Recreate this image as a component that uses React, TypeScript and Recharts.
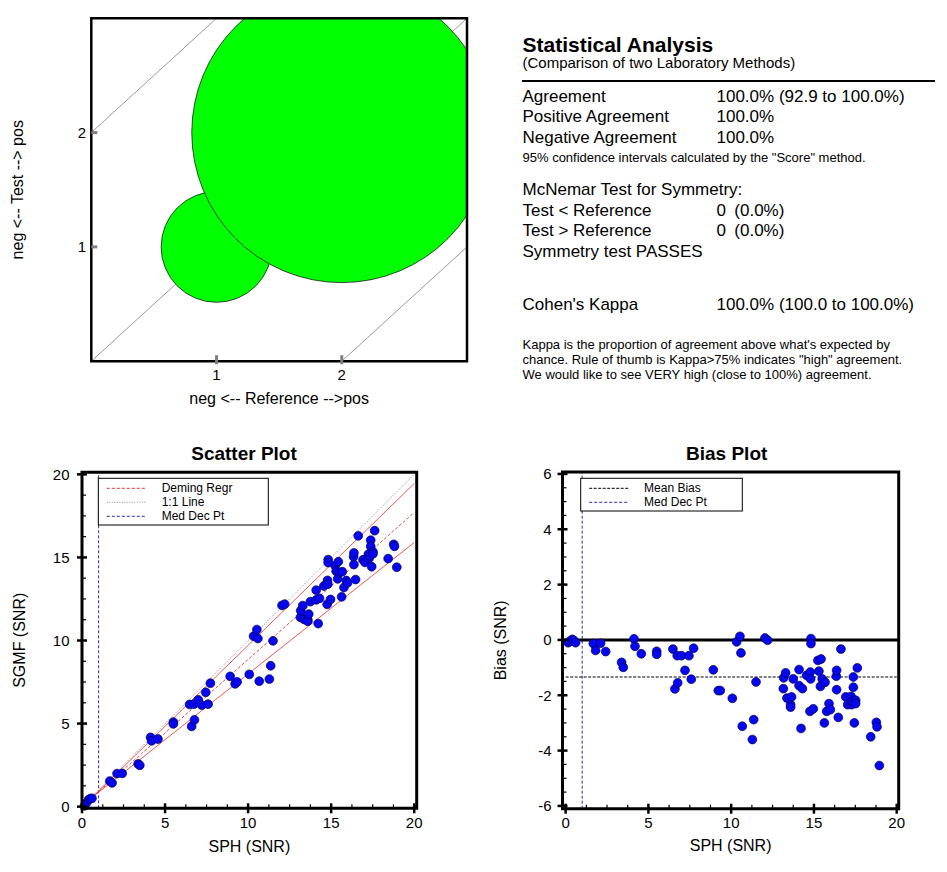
import React from 'react';
import { ScatterChart, Scatter, XAxis, YAxis, ZAxis, ReferenceLine, ReferenceArea } from 'recharts';

const FONT = '"Liberation Sans", Arial, Helvetica, sans-serif';

// 2x2 agreement plot (1 = neg, 2 = pos on both axes)
const agreementRef = [1, 2];
const agreementTest = [1, 2];
const agreementCount = [6, 44];
const agreementTicks = [1, 2];
const agreementDiagonals = [-2, 0, 2]; // test = reference + offset

// method comparison, values (bias = SGMF - SPH)
const sph = [
  0.15, 0.25, 0.4, 0.5, 0.6, 1.67, 1.81, 2.11, 2.42, 3.38,
  3.48, 4.13, 4.19, 4.57, 5.5, 5.5, 6.48, 6.6, 6.74, 6.77,
  7.0, 7.21, 7.45, 7.59, 7.73, 8.92, 9.22, 9.34, 10.07, 10.33,
  10.53, 10.59, 10.67, 11.28, 11.36, 11.5, 12.04, 12.2, 13.15, 13.17,
  13.29, 13.37, 13.59, 13.59, 13.65, 13.75, 14.1, 14.1, 14.22, 14.3,
  14.56, 14.76, 14.78, 14.8, 14.82, 14.82, 14.96, 15.24, 15.3, 15.39,
  15.43, 15.5, 15.63, 15.67, 15.77, 15.91, 15.99, 16.35, 16.37, 16.37,
  16.47, 16.63, 16.92, 17.04, 17.24, 17.28, 17.32, 17.38, 17.38, 17.44,
  17.52, 17.52, 17.62, 18.43, 18.77, 18.81, 18.95,
];
const bias = [
  -0.1, -0.05, 0.02, -0.02, -0.1, -0.13, -0.38, -0.12, -0.42, -0.81,
  -0.99, 0.04, -0.23, -0.5, -0.41, -0.52, -0.33, -1.77, -0.57, -1.55,
  -0.57, -1.1, -0.57, -1.42, -0.3, -1.08, -1.83, -1.83, -2.11, -0.07,
  0.13, -0.47, -3.12, -3.6, -2.88, -1.52, 0.07, -0.01, -1.76, -1.37,
  -1.19, -2.1, -2.34, -2.43, -2.06, -1.41, -1.07, -1.65, -3.2, -1.76,
  -1.28, -2.58, -1.16, -1.41, 0.05, -0.13, -2.49, -0.74, -1.13, -1.68,
  -0.69, -1.41, -3.0, -1.53, -2.58, -2.3, -2.52, -1.31, -1.1, -1.8,
  -2.8, -0.33, -2.06, -2.34, -2.04, -2.34, -2.22, -1.34, -1.71, -3.0,
  -2.18, -2.3, -1.01, -3.5, -2.98, -3.14, -4.54,
];
const snrTicks = [0, 5, 10, 15, 20];
const biasTicks = [-6, -4, -2, 0, 2, 4, 6];
const medDecPt = 1;
const meanBias = -1.34;
const meanBiasX = [0, 20];
const identityX = [0, 20];
const demingX = [0.6, 20];
const demingY = [0.55, 17.7];
const demingUpperY = [0.55, 19.45];
const demingLowerY = [0.55, 15.9];

const scatterLegend = [
  { label: 'Deming Regr', color: '#e53333', dash: '3 2' },
  { label: '1:1 Line', color: '#8a8a8a', dash: '1 1.5' },
  { label: 'Med Dec Pt', color: '#2a2ab0', dash: '3 2' },
];
const biasLegend = [
  { label: 'Mean Bias', color: '#000', dash: '3 1.5' },
  { label: 'Med Dec Pt', color: '#2a2ab0', dash: '3 2' },
];

const statRows = [
  { label: 'Agreement', value: '100.0% (92.9 to 100.0%)' },
  { label: 'Positive Agreement', value: '100.0%' },
  { label: 'Negative Agreement', value: '100.0%' },
];
const mcnemarRows = [
  { label: 'Test < Reference', count: '0', pct: '(0.0%)' },
  { label: 'Test > Reference', count: '0', pct: '(0.0%)' },
];
const kappaNotes = [
  "Kappa is the proportion of agreement above what's expected by",
  'chance. Rule of thumb is Kappa>75% indicates "high" agreement.',
  'We would like to see VERY high (close to 100%) agreement.',
];

const agreementData = agreementRef.map((r, i) => ({ reference: r, test: agreementTest[i], count: agreementCount[i] }));
const pointData = sph.map((x, i) => ({ sph: x, bias: bias[i], sgmf: +(x + bias[i]).toFixed(2) }));

const maxCount = Math.max(...agreementCount);
const minCount = Math.min(...agreementCount);
const maxBubbleArea = Math.PI * 150 * 150;

const withMinor = (majors: number[], parts: number) => {
  const out: number[] = [];
  for (let i = 0; i < majors.length - 1; i++) {
    const step = (majors[i + 1] - majors[i]) / parts;
    for (let k = 0; k < parts; k++) out.push(+(majors[i] + k * step).toFixed(4));
  }
  out.push(majors[majors.length - 1]);
  return out;
};

const isMajor = (v: number, majors: number[]) => majors.some((m) => Math.abs(m - v) < 1e-6);

type TickOpts = { majors: number[]; gap: number; color: string; out: number; inn: number; width: number };

const makeXTick = (o: TickOpts) => (props: any) => {
  const { x, y, payload } = props;
  const major = isMajor(payload.value, o.majors);
  return (
    <g>
      <line x1={x} x2={x} y1={major ? y + o.out : y} y2={major ? y - o.inn : y - 4} stroke={major ? o.color : '#000'} strokeWidth={major ? o.width : 1.2} />
      {major && (
        <text x={x} y={y + o.gap} textAnchor="middle" fontSize={15} fontFamily={FONT} fill="#000">{payload.value}</text>
      )}
    </g>
  );
};

const makeYTick = (o: TickOpts) => (props: any) => {
  const { x, y, payload } = props;
  const major = isMajor(payload.value, o.majors);
  return (
    <g>
      <line x1={major ? x - o.out : x} x2={major ? x + o.inn : x + 4} y1={y} y2={y} stroke={major ? o.color : '#000'} strokeWidth={major ? o.width : 1.2} />
      {major && (
        <text x={x - o.gap} y={y} dy="0.36em" textAnchor="end" fontSize={15} fontFamily={FONT} fill="#000">{payload.value}</text>
      )}
    </g>
  );
};

const ScatterDot = (p: any) => <circle cx={p.cx} cy={p.cy} r={4.4} fill="#0606f0" stroke="#00005a" strokeWidth={0.7} />;

const axisLabel = (value: string, position: string, offset: number, rotate = false) => ({
  value,
  position,
  offset,
  angle: rotate ? -90 : 0,
  fontSize: 16,
  fill: '#000',
  fontFamily: FONT,
  style: rotate ? { textAnchor: 'middle' } : undefined,
});

function AgreementPlot() {
  const dom = [0, 3];
  return (
    <div style={{ position: 'absolute', left: 0, top: 0 }}>
      <ScatterChart width={480} height={420} margin={{ top: 18.3, right: 13, bottom: 8.8, left: 11.3 }}>
        <XAxis type="number" dataKey="reference" domain={dom} allowDataOverflow ticks={agreementTicks} interval={0}
          tickSize={0} tickMargin={0} tickLine={false} axisLine={false} height={50}
          tick={makeXTick({ majors: agreementTicks, gap: 18.8, color: '#808080', out: 3, inn: 6, width: 3 })}
          label={axisLabel('neg <-- Reference -->pos', 'insideBottom', 7.2)} />
        <YAxis type="number" dataKey="test" domain={dom} allowDataOverflow ticks={agreementTicks} interval={0}
          tickSize={0} tickMargin={0} tickLine={false} axisLine={false} width={80}
          tick={makeYTick({ majors: agreementTicks, gap: 5.3, color: '#808080', out: 0, inn: 6, width: 3 })}
          label={axisLabel('neg <-- Test --> pos', 'insideLeft', 6.2, true)} />
        <ZAxis type="number" dataKey="count" domain={[minCount, maxCount]} range={[maxBubbleArea * minCount / maxCount, maxBubbleArea]} />
        {agreementDiagonals.map((off) => (
          <ReferenceLine key={off} segment={[{ x: dom[0], y: dom[0] + off }, { x: dom[1], y: dom[1] + off }]}
            stroke="#9a9a9a" strokeWidth={1} ifOverflow="hidden" />
        ))}
        <Scatter data={agreementData} fill="#00ff00" stroke="#1a1a1a" strokeWidth={0.8} isAnimationActive={false} />
        <ReferenceArea x1={dom[0]} x2={dom[1]} y1={dom[0]} y2={dom[1]} fill="none" fillOpacity={0} stroke="#000" strokeWidth={2.5} ifOverflow="visible" zIndex={1500} />
      </ScatterChart>
    </div>
  );
}

function ComparisonScatter() {
  const xDom = [0, 20.15];
  const yDom = [-0.1, 20.13];
  const ticks = withMinor(snrTicks, 4);
  const tickStyle = { majors: snrTicks, color: '#000', out: 5, inn: 5, width: 2.5 };
  return (
    <div style={{ position: 'absolute', left: 0, top: 430 }}>
      <ScatterChart width={440} height={440} margin={{ top: 42.2, right: 23.3, bottom: 11.7, left: 12 }}>
        <XAxis type="number" dataKey="sph" domain={xDom} ticks={ticks} interval={0}
          tickSize={0} tickMargin={0} tickLine={false} axisLine={false} height={50}
          tick={makeXTick({ ...tickStyle, gap: 20 })}
          label={axisLabel('SPH (SNR)', 'insideBottom', 6.6)} />
        <YAxis type="number" dataKey="sgmf" domain={yDom} ticks={ticks} interval={0}
          tickSize={0} tickMargin={0} tickLine={false} axisLine={false} width={70}
          tick={makeYTick({ ...tickStyle, gap: 12.5 })}
          label={axisLabel('SGMF (SNR)', 'insideLeft', 7.5, true)} />
        <ReferenceLine x={medDecPt} stroke="#2a2ab0" strokeWidth={1} strokeDasharray="3 2" />
        <ReferenceLine segment={[{ x: identityX[0], y: identityX[0] }, { x: identityX[1], y: identityX[1] }]}
          stroke="#8a8a8a" strokeWidth={1} strokeDasharray="1 1.5" ifOverflow="hidden" />
        <ReferenceLine segment={[{ x: demingX[0], y: demingUpperY[0] }, { x: demingX[1], y: demingUpperY[1] }]}
          stroke="#ee4444" strokeWidth={0.9} ifOverflow="hidden" />
        <ReferenceLine segment={[{ x: demingX[0], y: demingLowerY[0] }, { x: demingX[1], y: demingLowerY[1] }]}
          stroke="#ee4444" strokeWidth={0.9} ifOverflow="hidden" />
        <ReferenceLine segment={[{ x: demingX[0], y: demingY[0] }, { x: demingX[1], y: demingY[1] }]}
          stroke="#e53333" strokeWidth={0.9} strokeDasharray="3 2" ifOverflow="hidden" />
        <Scatter data={pointData} shape={ScatterDot} isAnimationActive={false} />
        <ReferenceArea x1={xDom[0]} x2={xDom[1]} y1={yDom[0]} y2={yDom[1]} fill="none" fillOpacity={0} stroke="#000" strokeWidth={3} ifOverflow="visible" zIndex={1500} />
      </ScatterChart>
    </div>
  );
}

function BiasPlot() {
  const xDom = [-0.19, 20.12];
  const yDom = [-6.1, 6.07];
  const xTicks = withMinor(snrTicks, 4);
  const yTicks = withMinor(biasTicks, 4);
  return (
    <div style={{ position: 'absolute', left: 480, top: 430 }}>
      <ScatterChart width={460} height={440} margin={{ top: 42, right: 41.3, bottom: 11.3, left: 12.5 }}>
        <XAxis type="number" dataKey="sph" domain={xDom} ticks={xTicks} interval={0}
          tickSize={0} tickMargin={0} tickLine={false} axisLine={false} height={50}
          tick={makeXTick({ majors: snrTicks, color: '#000', out: 5, inn: 5, width: 2.5, gap: 19.6 })}
          label={axisLabel('SPH (SNR)', 'insideBottom', 8)} />
        <YAxis type="number" dataKey="bias" domain={yDom} ticks={yTicks} interval={0}
          tickSize={0} tickMargin={0} tickLine={false} axisLine={false} width={70}
          tick={makeYTick({ majors: biasTicks, color: '#000', out: 5, inn: 5, width: 2.5, gap: 11 })}
          label={axisLabel('Bias (SNR)', 'insideLeft', 8.2, true)} />
        <ReferenceLine x={medDecPt} stroke="#2a2ab0" strokeWidth={1} strokeDasharray="3 2" />
        <ReferenceLine y={0} stroke="#000" strokeWidth={3} />
        <ReferenceLine segment={[{ x: meanBiasX[0], y: meanBias }, { x: meanBiasX[1], y: meanBias }]}
          stroke="#000" strokeWidth={1.1} strokeDasharray="3 1.5" ifOverflow="hidden" />
        <Scatter data={pointData} shape={ScatterDot} isAnimationActive={false} />
        <ReferenceArea x1={xDom[0]} x2={xDom[1]} y1={yDom[0]} y2={yDom[1]} fill="none" fillOpacity={0} stroke="#000" strokeWidth={3} ifOverflow="visible" zIndex={1500} />
      </ScatterChart>
    </div>
  );
}

function LegendBox({ x, y, w, entries }: { x: number; y: number; w: number; entries: typeof scatterLegend }) {
  const h = entries.length * 14 + 4.7;
  return (
    <g>
      <rect x={x} y={y} width={w} height={h} fill="#fff" stroke="#000" strokeWidth={1} />
      {entries.map((e, i) => (
        <g key={e.label}>
          <line x1={x + 8.5} x2={x + 47.5} y1={y + 10 + i * 14} y2={y + 10 + i * 14} stroke={e.color} strokeWidth={1} strokeDasharray={e.dash} />
          <text x={x + 63.4} y={y + 13.6 + i * 14} fontSize={12} fill="#000">{e.label}</text>
        </g>
      ))}
    </g>
  );
}

function Overlay() {
  const lx = 522.5;
  const vx = 716.5;
  return (
    <svg width={947} height={872} style={{ position: 'absolute', left: 0, top: 0, pointerEvents: 'none' }} fontFamily={FONT}>
      <text x={lx} y={51.7} fontSize={21} fontWeight="bold" fill="#000">Statistical Analysis</text>
      <text x={lx} y={67.5} fontSize={15} fill="#000">(Comparison of two Laboratory Methods)</text>
      <line x1={522} x2={935} y1={81} y2={81} stroke="#000" strokeWidth={2} />
      {statRows.map((r, i) => (
        <g key={r.label}>
          <text x={lx} y={101.5 + i * 20.5} fontSize={17} fill="#000">{r.label}</text>
          <text x={vx} y={101.5 + i * 20.5} fontSize={17} fill="#000">{r.value}</text>
        </g>
      ))}
      <text x={lx} y={161.5} fontSize={13} fill="#000">95% confidence intervals calculated by the "Score" method.</text>
      <text x={lx} y={195} fontSize={17} fill="#000">McNemar Test for Symmetry:</text>
      {mcnemarRows.map((r, i) => (
        <g key={r.label}>
          <text x={lx} y={215.5 + i * 20.5} fontSize={17} fill="#000">{r.label}</text>
          <text x={vx} y={215.5 + i * 20.5} fontSize={17} fill="#000">{r.count}</text>
          <text x={734.3} y={215.5 + i * 20.5} fontSize={17} fill="#000">{r.pct}</text>
        </g>
      ))}
      <text x={lx} y={256.5} fontSize={17} fill="#000">Symmetry test PASSES</text>
      <text x={lx} y={309.5} fontSize={17} fill="#000">Cohen's Kappa</text>
      <text x={vx} y={309.5} fontSize={17} fill="#000">100.0% (100.0 to 100.0%)</text>
      {kappaNotes.map((t, i) => (
        <text key={i} x={lx} y={348.5 + i * 15.3} fontSize={13} fill="#000">{t}</text>
      ))}

      <text x={244} y={460} textAnchor="middle" fontSize={19} fontWeight="bold" fill="#000">Scatter Plot</text>
      <text x={726.7} y={460} textAnchor="middle" fontSize={19} fontWeight="bold" fill="#000">Bias Plot</text>

      <LegendBox x={98.3} y={478.3} w={170} entries={scatterLegend} />
      <LegendBox x={580.7} y={478.3} w={161.6} entries={biasLegend} />
    </svg>
  );
}

export default function App() {
  return (
    <div style={{ position: 'relative', width: 947, height: 872, background: '#fff', fontFamily: FONT }}>
      <style>{'body{margin:0}'}</style>
      <AgreementPlot />
      <ComparisonScatter />
      <BiasPlot />
      <Overlay />
    </div>
  );
}
